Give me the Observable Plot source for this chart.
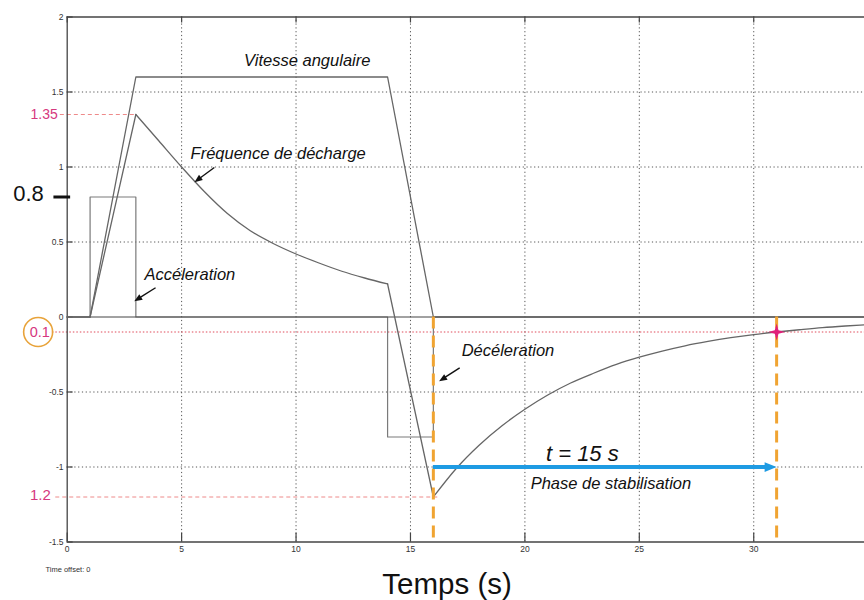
<!DOCTYPE html>
<html><head><meta charset="utf-8">
<script src="https://cdn.jsdelivr.net/npm/d3@7"></script>
<script src="https://cdn.jsdelivr.net/npm/@observablehq/plot@0.6"></script>
<style>body{margin:0;background:#fff} #chart svg{display:block}</style>
</head><body><div id="chart"></div>
<script>
// ---- axis ticks ----
const xTicks = [0, 5, 10, 15, 20, 25, 30];
const xTickLabels = ["0", "5", "10", "15", "20", "25", "30"];
const yTicks = [-1.5, -1, -0.5, 0, 0.5, 1, 1.5, 2];
const yTickLabels = ["-1.5", "-1", "-0.5", "0", "0.5", "1", "1.5", "2"];
const xGrid = [5, 10, 15, 20, 25, 30];
const yGrid = [-1, -0.5, 0.5, 1, 1.5];
const xMax = 34.84;

// ---- Vitesse angulaire ----
const vitesseT = [0, 1, 3, 14, 16, xMax];
const vitesseV = [0, 0, 1.6, 1.6, 0, 0];

// ---- Accélération / décélération (steps) ----
const accelT = [0, 1, 1, 3, 3, 14, 14, 16, 16, xMax];
const accelV = [0, 0, 0.8, 0.8, 0, 0, -0.8, -0.8, 0, 0];

// ---- Fréquence de décharge ----
const freqRiseT = [1, 3];
const freqRiseV = [0, 1.35];
const freqDecayT = [3, 4, 5, 6, 7, 8, 9, 10, 11, 12, 13, 14];
const freqDecayV = [1.35, 1.175, 1.0, 0.835, 0.69, 0.575, 0.49, 0.42, 0.36, 0.305, 0.26, 0.22];
const freqDropT = [14, 16];
const freqDropV = [0.22, -1.2];
const freqRecT = [16, 17, 18, 19, 20, 21, 22, 23, 24, 25, 26, 27, 28, 29, 30, 31, 32, 33, 34, xMax];
const freqRecV = [-1.2, -1.01, -0.855, -0.725, -0.615, -0.52, -0.44, -0.375, -0.316, -0.268, -0.227, -0.192, -0.163, -0.138, -0.117, -0.1, -0.085, -0.071, -0.06, -0.052];

// ---- annotations values ----
const markerTimes = [16, 31];          // orange dashed verticals
const stabStart = 16, stabEnd = 31, stabLevel = -1;
const peakLevel = 1.35, minLevel = -1.2, threshLevel = -0.1, accelLevel = 0.8;
const starT = 31, starV = -0.1;

const pts = (T, V) => T.map((t, i) => ({t, v: V[i]}));

const FONT = "Liberation Sans, Arial, sans-serif";
const GREY = "#666";
const MAG = "#d6387e";
const ORANGE = "#f0a432";
const BLUE = "#1e9be3";

const star4 = {draw(ctx, size) {
  const R = Math.sqrt(size / Math.PI), w = R * 0.22;
  ctx.moveTo(0, -R); ctx.lineTo(w, -w); ctx.lineTo(R, 0); ctx.lineTo(w, w);
  ctx.lineTo(0, R); ctx.lineTo(-w, w); ctx.lineTo(-R, 0); ctx.lineTo(-w, -w); ctx.closePath();
}};
// arrow head: tip at origin, pointing up (rotate to orient)
const headUp = {draw(ctx, size) {
  const R = Math.sqrt(size / Math.PI);
  ctx.moveTo(0, 0); ctx.lineTo(-R * 0.65, R * 1.6); ctx.lineTo(R * 0.65, R * 1.6); ctx.closePath();
}};

const italic = {fontFamily: FONT, fontStyle: "italic", fill: "#111"};

// small annotation arrows (tail -> tip), with screen-space head rotation
const pointers = [
  {x1: 6.43, y1: 0.997, x2: 5.56, y2: 0.899, rot: -126},
  {x1: 3.86, y1: 0.195, x2: 2.93, y2: 0.105, rot: -122},
  {x1: 17.15, y1: -0.339, x2: 16.25, y2: -0.428, rot: -122}
];

const chart = Plot.plot({
  width: 864, height: 600,
  marginLeft: 66.7, marginRight: 0, marginTop: 16.5, marginBottom: 58.5,
  x: {domain: [0, xMax], axis: null},
  y: {domain: [-1.5, 2], axis: null},
  style: {fontFamily: FONT, background: "white", overflow: "visible"},
  marks: [
    // grid
    Plot.ruleX(xGrid, {y1: -1.5, y2: 2, stroke: "#555", strokeDasharray: "1.2,2.6", strokeWidth: 1}),
    Plot.ruleY(yGrid, {x1: 0, x2: xMax, stroke: "#555", strokeDasharray: "1.2,2.6", strokeWidth: 1}),
    // reference lines (pink)
    Plot.ruleY([peakLevel], {x1: -0.3, x2: 3, stroke: "#ee8a8a", strokeDasharray: "4,3", strokeWidth: 1}),
    Plot.ruleY([minLevel], {x1: -0.5, x2: 16.3, stroke: "#ee8a8a", strokeDasharray: "4,3", strokeWidth: 1}),
    Plot.ruleY([threshLevel], {x1: -0.65, x2: xMax, stroke: "#e04a5a", strokeDasharray: "1.5,2", strokeWidth: 1.2}),
    // frame
    Plot.ruleX([0], {y1: -1.5, y2: 2, stroke: "#444", strokeWidth: 1.3}),
    Plot.ruleY([2, -1.5], {x1: 0, x2: xMax, stroke: "#444", strokeWidth: 1.3}),
    // ticks
    Plot.ruleY(yTicks, {x1: 0, x2: 0.26, stroke: "#444", strokeWidth: 1.2}),
    Plot.ruleX(xTicks, {y1: -1.5, y2: -1.44, stroke: "#444", strokeWidth: 1.2}),
    Plot.ruleX(xTicks, {y1: 2, y2: 1.96, stroke: "#444", strokeWidth: 1.2}),
    // tick labels
    Plot.text(yTicks, {x: -0.16, y: d => d, text: (d, i) => yTickLabels[i], textAnchor: "end", fontSize: 8.5, fill: "#333"}),
    Plot.text(xTicks, {x: d => d, y: -1.5, dy: 7, text: (d, i) => xTickLabels[i], fontSize: 8.5, fill: "#333"}),
    // signals
    Plot.line(pts(accelT, accelV), {x: "t", y: "v", stroke: "#7a7a7a", strokeWidth: 1.2}),
    Plot.ruleY([0], {x1: 0, x2: xMax, stroke: "#444", strokeWidth: 1}),
    Plot.line(pts(vitesseT, vitesseV), {x: "t", y: "v", stroke: GREY, strokeWidth: 1.3}),
    Plot.line(pts(freqRiseT, freqRiseV), {x: "t", y: "v", stroke: GREY, strokeWidth: 1.3}),
    Plot.line(pts(freqDecayT, freqDecayV), {x: "t", y: "v", stroke: GREY, strokeWidth: 1.3, curve: "monotone-x"}),
    Plot.line(pts(freqDropT, freqDropV), {x: "t", y: "v", stroke: GREY, strokeWidth: 1.3}),
    Plot.line(pts(freqRecT, freqRecV), {x: "t", y: "v", stroke: GREY, strokeWidth: 1.3, curve: "monotone-x"}),
    // orange dashed verticals
    Plot.ruleX(markerTimes, {y1: 0, y2: -1.5, stroke: ORANGE, strokeWidth: 3, strokeDasharray: "12,7"}),
    // blue arrow
    Plot.ruleY([stabLevel], {x1: stabStart, x2: stabEnd - 0.4, stroke: BLUE, strokeWidth: 4}),
    Plot.dot([{t: stabEnd, v: stabLevel}], {x: "t", y: "v", symbol: headUp, rotate: 90, r: 7.5, fill: BLUE, stroke: "none"}),
    // star
    Plot.dot([{t: starT, v: starV}], {x: "t", y: "v", symbol: star4, r: 8.5, fill: "#e0207a", stroke: "none"}),
    // annotation pointers
    Plot.link(pointers, {x1: "x1", y1: "y1", x2: d => d.x2 + (d.x1 - d.x2) * 0.3, y2: d => d.y2 + (d.y1 - d.y2) * 0.3, stroke: "#111", strokeWidth: 1.4}),
    Plot.dot(pointers, {x: "x2", y: "y2", symbol: headUp, rotate: "rot", r: 5, fill: "#111", stroke: "none"}),
    // annotation texts
    Plot.text(["Vitesse angulaire"], {x: 10.49, y: 1.71, text: d => d, fontSize: 16.5, ...italic}),
    Plot.text(["Fréquence de décharge"], {x: 9.22, y: 1.088, text: d => d, fontSize: 16.5, ...italic}),
    Plot.text(["Accéleration"], {x: 5.36, y: 0.283, text: d => d, fontSize: 16.5, ...italic}),
    Plot.text(["Décéleration"], {x: 19.26, y: -0.228, text: d => d, fontSize: 16.5, ...italic}),
    Plot.text(["t = 15 s"], {x: 22.51, y: -0.912, text: d => d, fontSize: 22, ...italic}),
    Plot.text(["Phase de stabilisation"], {x: 23.76, y: -1.112, text: d => d, fontSize: 16.5, ...italic}),
    // left-margin value labels
    Plot.text([String(peakLevel)], {x: -1.01, y: peakLevel, text: d => d, fontSize: 14, fill: MAG}),
    Plot.text(["0.1"], {x: -1.2, y: threshLevel, text: d => d, fontSize: 14.5, fill: MAG}),
    Plot.dot([{t: -1.27, v: threshLevel}], {x: "t", y: "v", r: 14.5, stroke: "#e8a33a", strokeWidth: 1.6, fill: "none"}),
    Plot.text(["1.2"], {x: -1.17, y: minLevel, dy: -1.5, text: d => d, fontSize: 15, fill: MAG}),
    Plot.text([String(accelLevel)], {x: -1.69, y: accelLevel, dy: -3, text: d => d, fontSize: 22, fill: "#111"}),
    Plot.ruleY([accelLevel], {x1: -0.58, x2: 0.15, stroke: "#111", strokeWidth: 3}),
    // bottom texts
    Plot.text(["Time offset: 0"], {x: -0.95, y: -1.5, dy: 28, text: d => d, textAnchor: "start", fontSize: 7.5, fill: "#333"}),
    Plot.text(["Temps (s)"], {x: 16.6, y: -1.5, dy: 43, text: d => d, fontSize: 29.5, fill: "#111"})
  ]
});
document.getElementById("chart").appendChild(chart);
</script>
</body></html>
